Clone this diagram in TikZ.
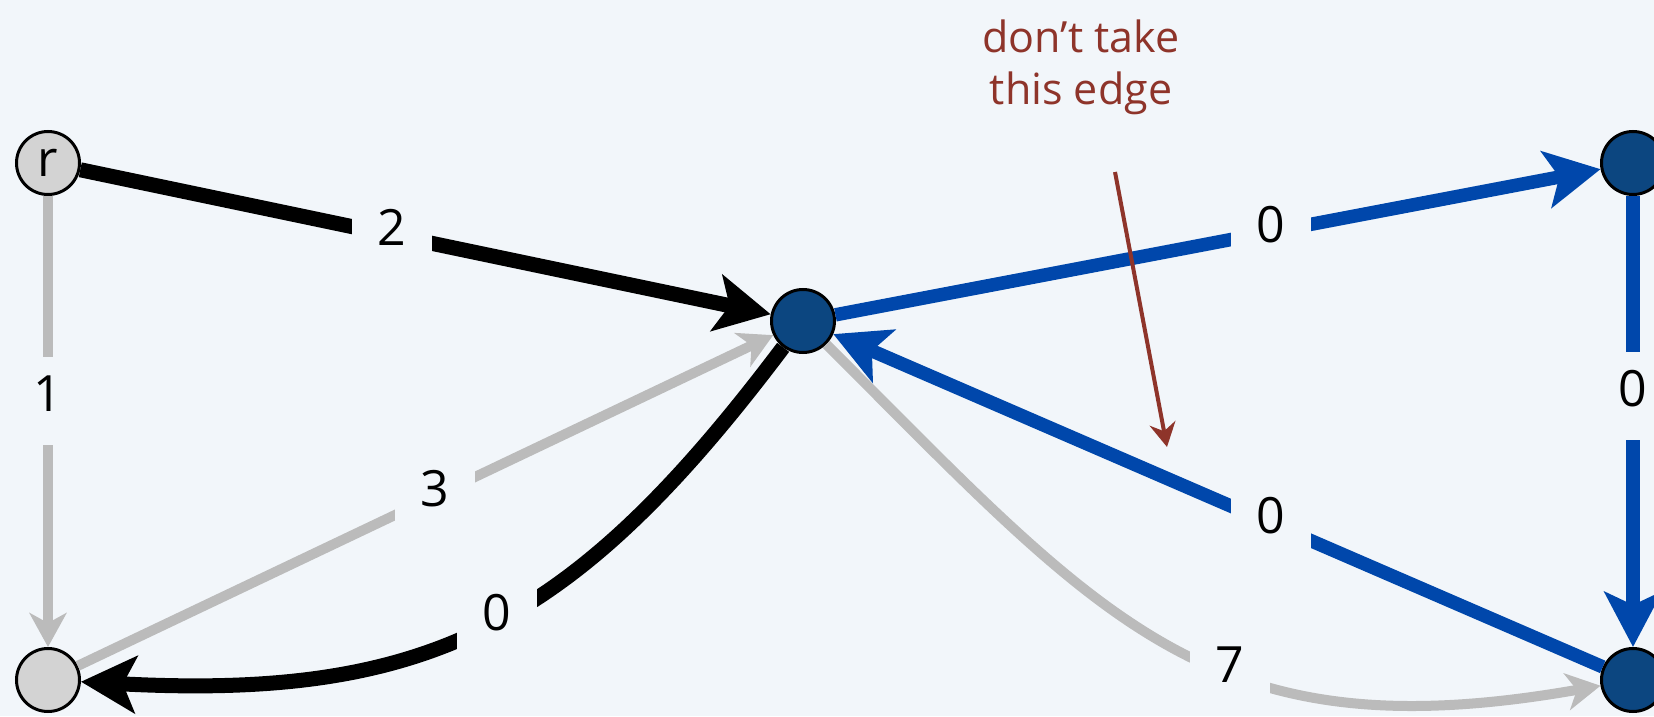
\documentclass[tikz,border=0pt]{standalone}
\usepackage{fontspec}
\setmainfont{Open Sans}
\usetikzlibrary{arrows.meta}
\definecolor{bg}{RGB}{242,246,250}
\definecolor{eblue}{RGB}{0,71,171}
\definecolor{nblue}{RGB}{12,70,128}
\definecolor{ngray}{RGB}{211,211,211}
\definecolor{egray}{RGB}{187,187,187}
\definecolor{annot}{RGB}{142,52,42}
\begin{document}
\begin{tikzpicture}[x=1pt,y=1pt,
  vtx/.style={circle,draw=black,line width=3pt,minimum size=63pt,inner sep=0pt,
    font=\fontsize{50}{60}\selectfont},
  lightv/.style={vtx,fill=ngray},
  darkv/.style={vtx,fill=nblue},
  lbl/.style={fill=bg,inner sep=0pt,minimum width=80pt,minimum height=88pt,
    text height=37pt,text depth=16pt,font=\fontsize{50}{60}\selectfont},
  bigtip/.style={-{Stealth[length=55pt,width=57pt,inset=13pt]}},
  bedge/.style={draw=black,line width=15pt,bigtip},
  uedge/.style={draw=eblue,line width=13.5pt,bigtip},
  gedge/.style={draw=egray,line width=10pt,-{Stealth[length=34pt,width=37pt,inset=10pt]}},
  redge/.style={draw=annot,line width=4pt,-{Stealth[length=24pt,width=26pt,inset=8pt]}},
  note/.style={text=annot,align=center,inner sep=0pt,font=\fontsize{43}{52}\selectfont}]
\useasboundingbox (0,0) rectangle (1654,716);
\fill[bg] (0,0) rectangle (1654,716);

\node[lightv] (r)  at (48,553) {r};
\node[lightv] (bl) at (48,36) {};
\node[darkv]  (c)  at (803,395) {};
\node[darkv]  (tr) at (1633,553) {};
\node[darkv]  (br) at (1633,36) {};

\draw[gedge] (r) -- node[lbl,pos=0.455]{1} (bl);
\draw[gedge] (bl) -- node[lbl,pos=0.514]{3} (c);
\draw[gedge] (c) to[out=-45,in=190,looseness=1.2] node[lbl,pos=0.585]{7} (br);
\draw[bedge] (r) -- node[lbl,pos=0.451]{2} (c);
\draw[bedge] (c) to[out=-127,in=-3,looseness=1.15] node[lbl,pos=0.48]{0} (bl);
\draw[uedge] (c) -- node[lbl,pos=0.569]{0} (tr);
\draw[uedge] (tr) -- node[lbl,pos=0.443]{0} (br);
\draw[uedge] (br) -- node[lbl,pos=0.431]{0} (c);

\node[note] (n) at (1081,649) {don’t take\\this edge};
\coordinate (ra) at (1115,544);
\coordinate (rb) at (1167,269);
\draw[redge] (ra) -- (rb);
\end{tikzpicture}
\end{document}
